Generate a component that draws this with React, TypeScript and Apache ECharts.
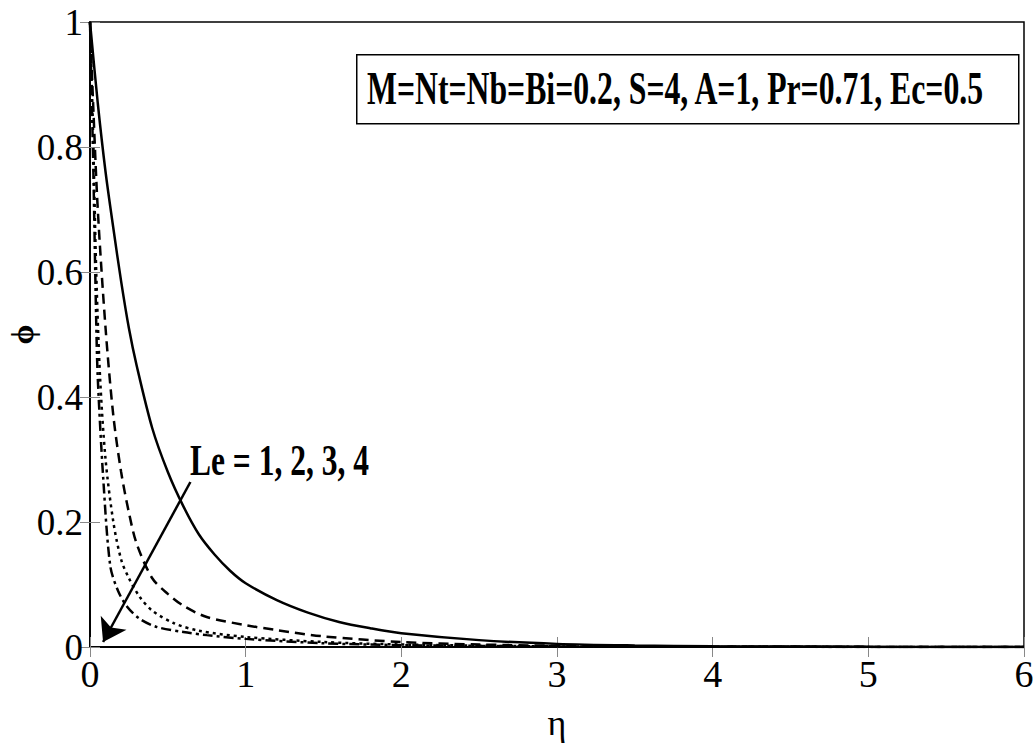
import React, { useEffect, useRef } from "react";
import * as echarts from "echarts";

// η values and φ values for each Le curve
const etaLe1 = [0, 0.05, 0.1, 0.15, 0.2, 0.25, 0.3, 0.4, 0.5, 0.6, 0.7, 0.8, 0.9, 1.0, 1.2, 1.4, 1.6, 1.8, 2.0, 2.5, 3.0, 3.5, 4, 5, 6];
const phiLe1 = [1, 0.87, 0.76, 0.67, 0.585, 0.51, 0.45, 0.35, 0.28, 0.225, 0.18, 0.148, 0.122, 0.102, 0.075, 0.055, 0.04, 0.03, 0.022, 0.011, 0.005, 0.0025, 0.0012, 0.0003, 0];

const etaLe2 = [0, 0.02, 0.05, 0.1, 0.15, 0.2, 0.25, 0.3, 0.4, 0.5, 0.6, 0.75, 1.0, 1.2, 1.5, 2.0, 2.5, 3.0, 4, 6];
const phiLe2 = [1, 0.87, 0.7, 0.51, 0.37, 0.28, 0.215, 0.165, 0.11, 0.085, 0.066, 0.048, 0.035, 0.027, 0.017, 0.008, 0.004, 0.002, 0.0005, 0];

const etaLe3 = [0, 0.02, 0.04, 0.065, 0.1, 0.15, 0.2, 0.25, 0.32, 0.4, 0.54, 0.7, 1.0, 1.5, 2.0, 3.0, 6];
const phiLe3 = [1, 0.82, 0.6, 0.43, 0.3, 0.2, 0.14, 0.11, 0.08, 0.058, 0.038, 0.026, 0.016, 0.008, 0.004, 0.001, 0];

const etaLe4 = [0, 0.02, 0.04, 0.05, 0.085, 0.13, 0.18, 0.24, 0.32, 0.43, 0.6, 0.75, 1.0, 1.5, 2.0, 3.0, 6];
const phiLe4 = [1, 0.78, 0.52, 0.43, 0.27, 0.13, 0.09, 0.064, 0.045, 0.032, 0.024, 0.019, 0.013, 0.006, 0.003, 0.001, 0];

const arrowStart = [0.645, 0.264];
const arrowEnd = [0.084, 0.008];

const paramText = "M=Nt=Nb=Bi=0.2, S=4, A=1, Pr=0.71, Ec=0.5";
const leText = "Le = 1, 2, 3, 4";

const FONT = "'Liberation Serif', 'Times New Roman', serif";

const zip = (xs: number[], ys: number[]) => xs.map((x, i) => [x, ys[i]]);

export default function App() {
  const ref = useRef<HTMLDivElement>(null);
  useEffect(() => {
    if (!ref.current) return;
    const chart = echarts.init(ref.current, null, { renderer: "svg" });
    const lineBase = { type: "line", showSymbol: false, smooth: 0.3, xAxisIndex: 0, yAxisIndex: 0 };
    const tick = { show: true, inside: true, length: 10, lineStyle: { color: "#888", width: 1 } };
    const axLine = { show: true, lineStyle: { color: "#000", width: 1.5 } };
    chart.setOption({
      animation: false,
      backgroundColor: "#fff",
      grid: {
        left: 90, right: 11, top: 22, bottom: 99,
        show: true, borderColor: "#000", borderWidth: 1.5,
        containLabel: false, outerBoundsMode: "none",
      },
      xAxis: [
        {
          type: "value", min: 0, max: 6, interval: 1, position: "bottom",
          name: "η", nameLocation: "middle", nameGap: 58, nameMoveOverlap: false,
          nameTextStyle: { fontFamily: FONT, fontSize: 36, color: "#000" },
          axisLine: axLine, axisTick: tick,
          axisLabel: { fontFamily: FONT, fontSize: 38, color: "#000", margin: 8 },
          splitLine: { show: false },
        },
        {
          type: "value", min: 0, max: 6, interval: 1, position: "top",
          axisLine: axLine, axisTick: tick,
          axisLabel: { show: false }, splitLine: { show: false },
        },
      ],
      yAxis: [
        {
          type: "value", min: 0, max: 1, interval: 0.2, position: "left",
          name: "ϕ", nameLocation: "middle", nameGap: 52, nameRotate: 90, nameMoveOverlap: false,
          nameTextStyle: { fontFamily: FONT, fontSize: 32, fontWeight: "bold", color: "#000" },
          axisLine: axLine, axisTick: tick,
          axisLabel: { fontFamily: FONT, fontSize: 37, color: "#000", margin: 7 },
          splitLine: { show: false },
        },
        {
          type: "value", min: 0, max: 1, interval: 0.2, position: "right",
          axisLine: axLine, axisTick: tick,
          axisLabel: { show: false }, splitLine: { show: false },
        },
      ],
      series: [
        {
          ...lineBase, name: "Le=1", data: zip(etaLe1, phiLe1),
          lineStyle: { color: "#000", width: 2.5, type: "solid" },
          markLine: {
            silent: true, animation: false,
            symbol: ["none", "arrow"], symbolSize: 22,
            label: { show: false },
            lineStyle: { color: "#000", width: 2.5, type: "solid" },
            data: [[{ coord: arrowStart }, { coord: arrowEnd }]],
          },
        },
        { ...lineBase, name: "Le=2", data: zip(etaLe2, phiLe2), lineStyle: { color: "#000", width: 2.5, type: [10, 6] } },
        { ...lineBase, name: "Le=3", data: zip(etaLe3, phiLe3), lineStyle: { color: "#000", width: 2.5, type: [3, 4] } },
        { ...lineBase, name: "Le=4", data: zip(etaLe4, phiLe4), lineStyle: { color: "#000", width: 2.5, type: [10, 4, 3, 4] } },
      ],
      graphic: [
        {
          type: "rect", left: 356, top: 54, z: 10,
          shape: { width: 662, height: 69 },
          style: { fill: "#fff", stroke: "#000", lineWidth: 1.5 },
        },
        {
          type: "text", x: 675, y: 89, z: 11, scaleX: 0.69,
          style: { text: paramText, fontFamily: FONT, fontSize: 46, fontWeight: "bold", fill: "#000", textAlign: "center", textVerticalAlign: "middle" },
        },
        {
          type: "text", x: 190, y: 459, z: 11, scaleX: 0.7,
          style: { text: leText, fontFamily: FONT, fontSize: 45, fontWeight: "bold", fill: "#000", textAlign: "left", textVerticalAlign: "middle" },
        },
      ],
    });
    return () => chart.dispose();
  }, []);
  return <div ref={ref} style={{ position: "fixed", left: 0, top: 0, width: 1035, height: 746, background: "#fff" }} />;
}
